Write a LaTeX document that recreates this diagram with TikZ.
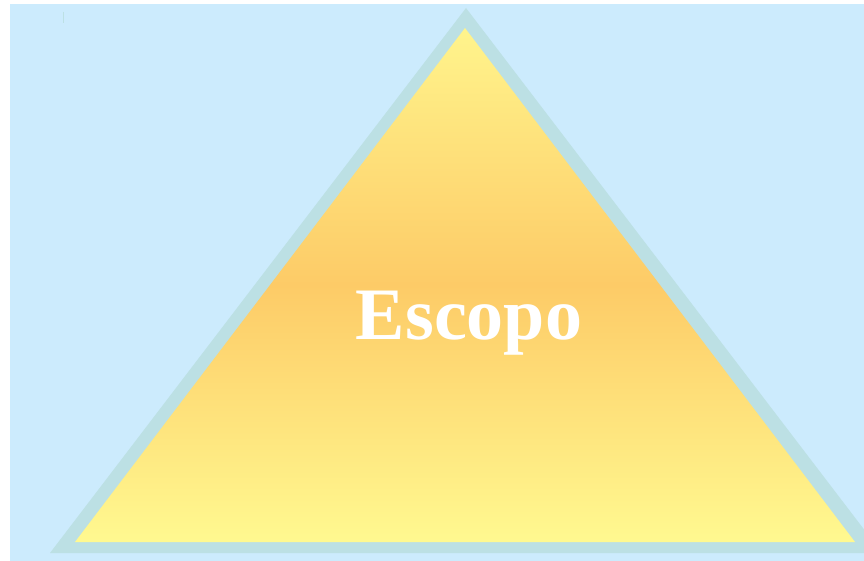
\documentclass[tikz,border=0pt]{standalone}
\usepackage{fontspec}
\setmainfont{Liberation Serif}
\definecolor{bgblue}{HTML}{CCEBFD}
\definecolor{rim}{HTML}{BCE0E4}
\definecolor{ytop}{HTML}{FFF48C}
\definecolor{ymid}{HTML}{FDCB67}
\definecolor{ybot}{HTML}{FFF990}
\begin{document}
\begin{tikzpicture}[x=1pt,y=-1pt,
  labeltext/.style={text=white,font=\fontsize{74}{80}\selectfont\bfseries,inner sep=0pt}]
\useasboundingbox (0,0) rectangle (864,561);
\fill[white] (0,0) rectangle (864,561);
\fill[bgblue] (10,4) rectangle (864,561);
\draw[rim,line width=0.8pt] (63,12) -- (63,23);
\begin{scope}
\clip (0,0) rectangle (864,561);
\fill[rim] (466,8) -- (50,553) -- (882,553) -- cycle;
\end{scope}
\shade[top color=ytop,bottom color=ybot,middle color=ymid,shading angle=0]
  (465,28) -- (75,542) -- (855,542) -- cycle;
\node[labeltext] (title) at (469,323) {Escopo};
\end{tikzpicture}
\end{document}
